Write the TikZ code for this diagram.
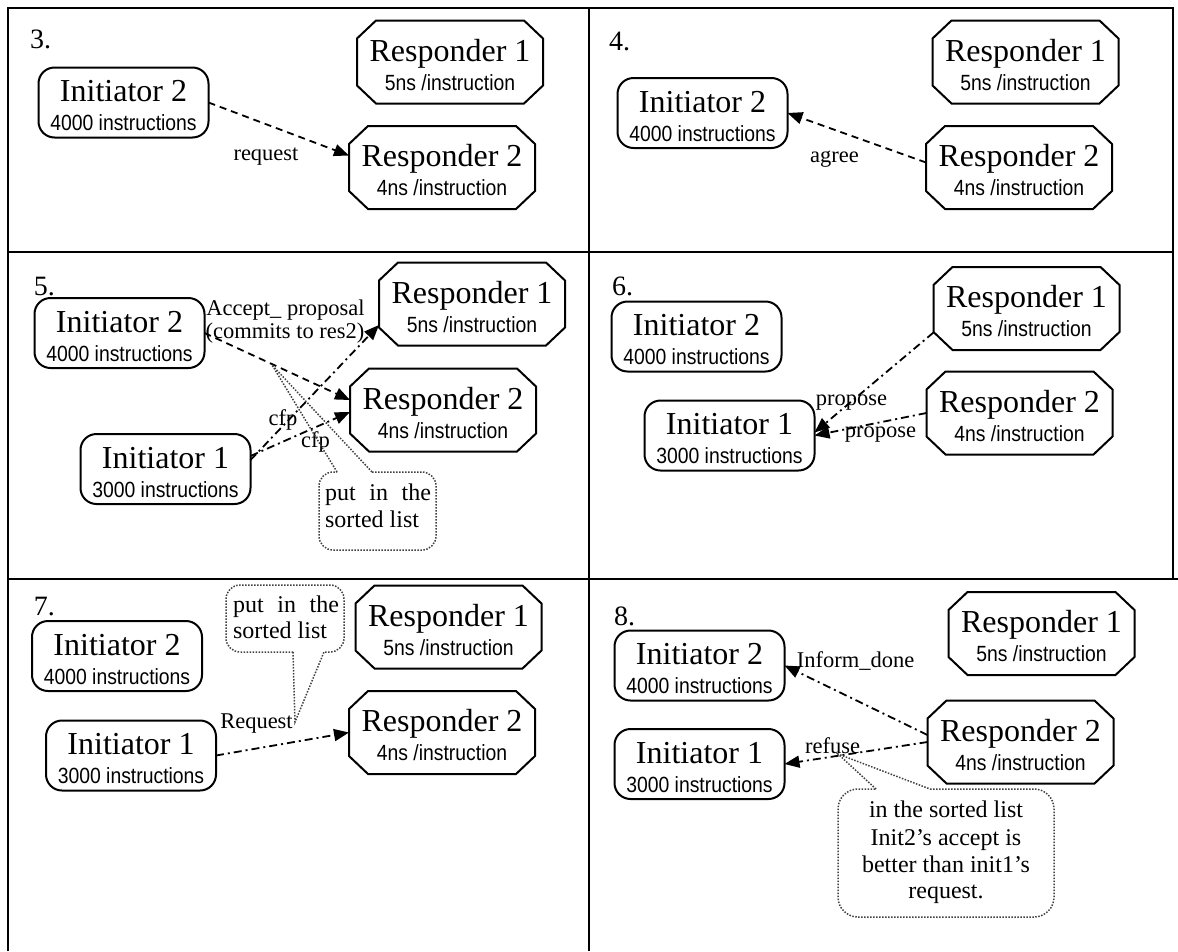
\documentclass[tikz,border=0pt]{standalone}
\usepackage{fontspec}
\setmainfont{Liberation Serif}
\newfontfamily\narrowsans[FakeStretch=0.88]{Liberation Sans}
\usetikzlibrary{arrows.meta}

% type sizes (1pt = 1 unit of the picture)
\newcommand\titlefont{\fontsize{32}{29}\selectfont}
\newcommand\subfont{\narrowsans\fontsize{22}{29}\selectfont}
\newcommand\lblfont{\fontsize{22.5}{23}\selectfont}
\newcommand\notefont{\fontsize{24}{27}\selectfont}
\newcommand\numfont{\fontsize{28}{30}\selectfont}

\tikzset{
  every node/.style={inner sep=0pt, outer sep=0pt},
  grid/.style={line width=1.6pt},
  boxline/.style={line width=2pt},
  initbox/.style={boxline, draw, rounded corners=16pt, minimum width=170pt,
    minimum height=70pt, align=center, font=\titlefont},
  respbox/.style={minimum width=186pt, minimum height=83pt, align=center, font=\titlefont},
  msg/.style={line width=1.8pt, -{Triangle[length=15pt,width=12pt]}},
  dashmsg/.style={msg, dash pattern=on 7pt off 5pt},
  dotdashmsg/.style={msg, dash pattern=on 8pt off 4pt on 2pt off 4pt},
  lbl/.style={font=\lblfont, anchor=base},
  note/.style={font=\notefont, anchor=base},
  noteline/.style={line width=1.5pt, dash pattern=on 1.5pt off 1.5pt, black!75},
  panelno/.style={font=\numfont, anchor=base west},
}

% an initiator: rounded box with name and workload
\newcommand\initiatornode[4]{%
  \node[initbox] (#1) at (#2) {\rule{0pt}{27.6pt}#3\\{\subfont #4}};}
% a responder: octagon with name and speed
\newcommand\respondernode[4]{%
  \node[respbox] (#1) at (#2) {\rule{0pt}{27.6pt}#3\\{\subfont #4}};
  \draw[boxline] ([xshift=19pt]#1.north west) -- ([xshift=-19pt]#1.north east)
    -- ([yshift=-18pt]#1.north east) -- ([yshift=18pt]#1.south east)
    -- ([xshift=-19pt]#1.south east) -- ([xshift=19pt]#1.south west)
    -- ([yshift=18pt]#1.south west) -- ([yshift=-18pt]#1.north west) -- cycle;}

\begin{document}
\begin{tikzpicture}[x=1pt,y=-1pt]
\useasboundingbox (0,0) rectangle (1178,951);

% frame of the six panels
\draw[grid] (8,951) -- (8,8) -- (1173,8) -- (1173,579);
\draw[grid] (589,8) -- (589,951);
\draw[grid] (8,252) -- (1173,252);
\draw[grid] (8,579) -- (1178,579);

% ---------- 3. request ----------
\node[panelno] (p3) at (30,48) {3.};
\initiatornode{i2a}{123.5,102.5}{Initiator 2}{4000 instructions}
\respondernode{r1a}{450,62}{Responder 1}{5ns /instruction}
\respondernode{r2a}{442,167.5}{Responder 2}{4ns /instruction}
\draw[dashmsg] (i2a.east) -- ([yshift=12pt]r2a.west);
\node[lbl] (l3) at (266,160) {request};

% ---------- 4. agree ----------
\node[panelno] (p4) at (609,50) {4.};
\initiatornode{i2b}{702.5,113}{Initiator 2}{4000 instructions}
\respondernode{r1b}{1025.5,62}{Responder 1}{5ns /instruction}
\respondernode{r2b}{1019,167.5}{Responder 2}{4ns /instruction}
\draw[dashmsg] ([yshift=5pt]r2b.west) -- (i2b.east);
\node[lbl] (l4) at (834.5,162) {agree};

% ---------- 5. accept and cfp ----------
\node[panelno] (p5) at (34,295) {5.};
\initiatornode{i2c}{119.5,333}{Initiator 2}{4000 instructions}
\respondernode{r1c}{472,304}{Responder 1}{5ns /instruction}
\respondernode{r2c}{443,410}{Responder 2}{4ns /instruction}
\initiatornode{i1c}{165.5,469}{Initiator 1}{3000 instructions}
\draw[dashmsg] (i2c.east) -- ([yshift=10pt]r2c.west);
\draw[dotdashmsg] ([yshift=9pt]i1c.east) -- ([yshift=-21pt]r1c.west);
\draw[dotdashmsg] ([yshift=13pt]i1c.east) -- ([yshift=-2pt]r2c.west);
\node[lbl] (l5a) at (285.5,315) {Accept\_ proposal};
\node[lbl] (l5b) at (285,338) {(commits to res2)};
\node[lbl] (l5c) at (283,425) {cfp};
\node[lbl] (l5d) at (315.5,447) {cfp};
\coordinate (tip5) at (272,365);
\draw[noteline, rounded corners=14pt] (372,472) -- (436,472) -- (436,550)
  -- (319,550) -- (319,472) -- (337,472);
\draw[noteline] (337,472) -- (tip5) -- (372,472);
\node[note, anchor=base west] (n5a) at (325,500) {\makebox[106pt][s]{put in the}};
\node[note, anchor=base west] (n5b) at (325,527) {sorted list};

% ---------- 6. propose ----------
\node[panelno] (p6) at (612,295) {6.};
\initiatornode{i2d}{696.5,336.5}{Initiator 2}{4000 instructions}
\respondernode{r1d}{1026.5,308.5}{Responder 1}{5ns /instruction}
\respondernode{r2d}{1019.5,413}{Responder 2}{4ns /instruction}
\initiatornode{i1d}{729.5,435.5}{Initiator 1}{3000 instructions}
\draw[dotdashmsg] ([yshift=-24pt]r1d.west) -- ([yshift=3pt]i1d.east);
\draw[dotdashmsg] (r2d.west) -- (i1d.east);
\node[lbl] (l6a) at (851.5,405) {propose};
\node[lbl] (l6b) at (880.5,437) {propose};

% ---------- 7. request from initiator 1 ----------
\node[panelno] (p7) at (34,615) {7.};
\initiatornode{i2e}{117,656}{Initiator 2}{4000 instructions}
\respondernode{r1e}{448.5,627}{Responder 1}{5ns /instruction}
\respondernode{r2e}{442,732.5}{Responder 2}{4ns /instruction}
\initiatornode{i1e}{131,755.5}{Initiator 1}{3000 instructions}
\draw[dotdashmsg] (i1e.east) -- (r2e.west);
\node[lbl] (l7) at (256.5,728) {Request};
\coordinate (tip7) at (295,722);
\draw[noteline, rounded corners=14pt] (293,652) -- (226,652) -- (226,585)
  -- (344,585) -- (344,652) -- (324,652);
\draw[noteline] (293,652) -- (tip7) -- (324,652);
\node[note, anchor=base west] (n7a) at (233,612) {\makebox[106pt][s]{put in the}};
\node[note, anchor=base west] (n7b) at (233,638) {sorted list};

% ---------- 8. inform and refuse ----------
\node[panelno] (p8) at (614,625) {8.};
\initiatornode{i2f}{699.5,665.5}{Initiator 2}{4000 instructions}
\respondernode{r1f}{1041.5,633.5}{Responder 1}{5ns /instruction}
\respondernode{r2f}{1020.5,742}{Responder 2}{4ns /instruction}
\initiatornode{i1f}{699.5,764}{Initiator 1}{3000 instructions}
\draw[dotdashmsg] ([yshift=7pt]r2f.west) -- (i2f.east);
\draw[dotdashmsg] (r2f.west) -- (i1f.east);
\node[lbl] (l8a) at (855.5,667) {Inform\_done};
\node[lbl] (l8b) at (832.5,753) {refuse};
\coordinate (tip8) at (838,754);
\draw[noteline, rounded corners=20pt] (930,789) -- (1054,789) -- (1054,917)
  -- (838,917) -- (838,789) -- (876,789);
\draw[noteline] (876,789) -- (tip8) -- (930,789);
\node[note] (n8a) at (946,817) {in the sorted list};
\node[note] (n8b) at (946,845) {Init2’s accept is};
\node[note] (n8c) at (946,872) {better than init1’s};
\node[note] (n8d) at (946,898) {request.};
\end{tikzpicture}
\end{document}
